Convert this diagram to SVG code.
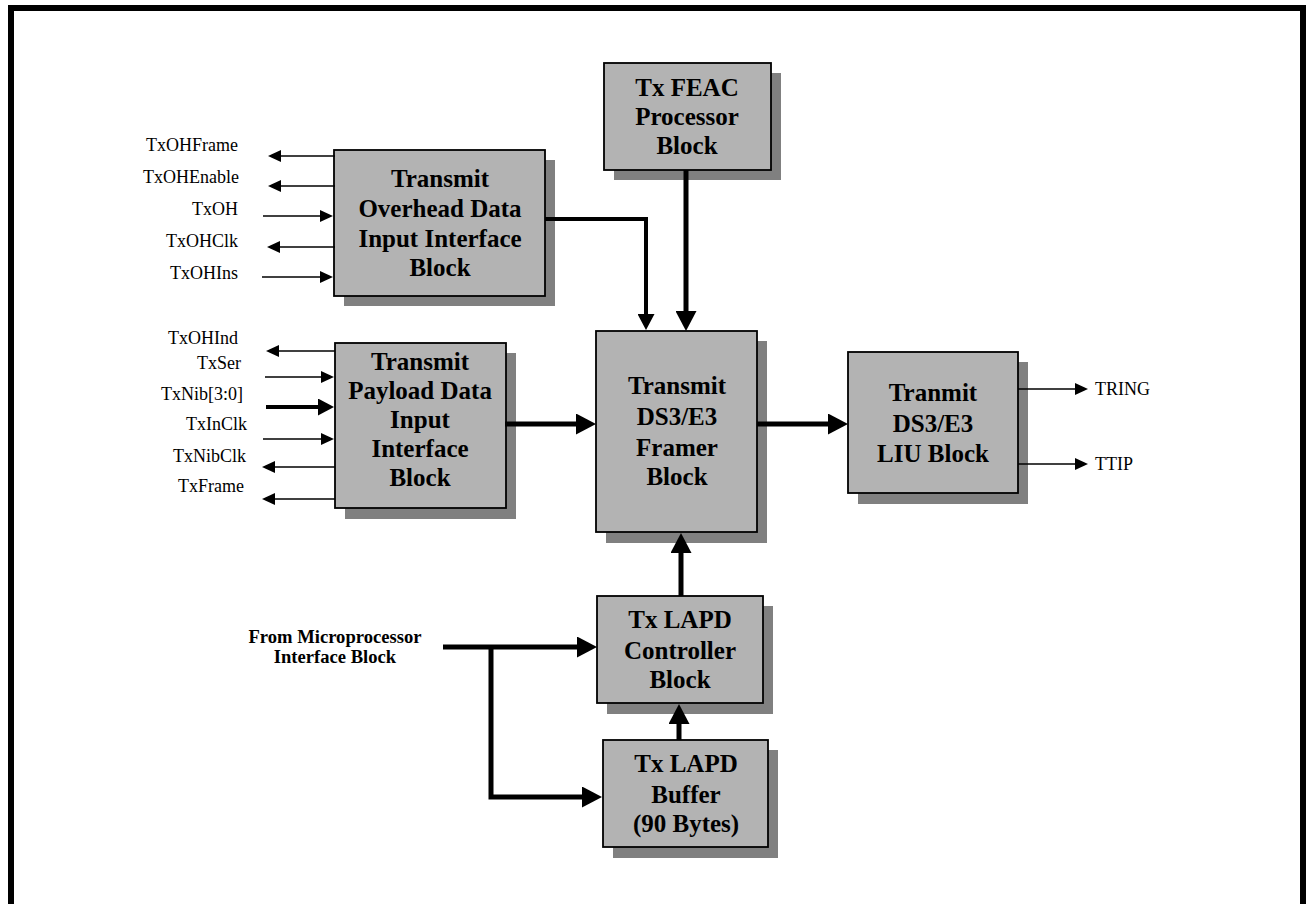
<svg xmlns="http://www.w3.org/2000/svg" width="1306" height="904" viewBox="0 0 1306 904">
<style>
.box{fill:#b3b3b3;stroke:#000;stroke-width:1.8}
.sh{fill:#808080}
.bt{font-family:"Liberation Serif","Times New Roman",serif;font-weight:bold;font-size:25px;text-anchor:middle;fill:#000}
.lb{font-family:"Liberation Serif","Times New Roman",serif;font-size:18px;fill:#000}
.lbb{font-family:"Liberation Serif","Times New Roman",serif;font-size:18.6px;font-weight:bold;text-anchor:middle;fill:#000}
.thin{fill:none;stroke:#000;stroke-width:1.5}
.mid{fill:none;stroke:#000;stroke-width:4}
.thick{fill:none;stroke:#000;stroke-width:5}
</style>
<defs>
<marker id="hs" markerUnits="userSpaceOnUse" markerWidth="13" markerHeight="12" refX="0" refY="6" orient="auto" viewBox="0 0 13 12"><path d="M0,0 L13,6 L0,12 z" fill="#000"/></marker>
<marker id="hm" markerUnits="userSpaceOnUse" markerWidth="16" markerHeight="17" refX="0" refY="8.5" orient="auto" viewBox="0 0 16 17"><path d="M0,0 L16,8.5 L0,17 z" fill="#000"/></marker>
<marker id="hl" markerUnits="userSpaceOnUse" markerWidth="20" markerHeight="21" refX="0" refY="10.5" orient="auto" viewBox="0 0 20 21"><path d="M0,0 L20,10.5 L0,21 z" fill="#000"/></marker>
</defs>
<rect x="0" y="0" width="1306" height="904" fill="#fff"/>
<rect x="11" y="8" width="1292" height="910" fill="none" stroke="#000" stroke-width="6"/>

<g id="overhead">
<rect class="sh" x="344" y="160" width="211" height="146"/>
<rect class="box" x="334" y="150" width="211" height="146"/>
<text class="bt" x="440" y="187">Transmit</text>
<text class="bt" x="440" y="217">Overhead Data</text>
<text class="bt" x="440" y="247">Input Interface</text>
<text class="bt" x="440" y="276">Block</text>
</g>

<g id="feac">
<rect class="sh" x="614" y="73" width="167" height="107"/>
<rect class="box" x="604" y="63" width="167" height="107"/>
<text class="bt" x="687" y="96">Tx FEAC</text>
<text class="bt" x="687" y="125">Processor</text>
<text class="bt" x="687" y="154">Block</text>
</g>

<g id="payload">
<rect class="sh" x="345" y="353" width="171" height="166"/>
<rect class="box" x="335" y="343" width="171" height="165"/>
<text class="bt" x="420" y="370">Transmit</text>
<text class="bt" x="420" y="399">Payload Data</text>
<text class="bt" x="420" y="428">Input</text>
<text class="bt" x="420" y="457">Interface</text>
<text class="bt" x="420" y="486">Block</text>
</g>

<g id="framer">
<rect class="sh" x="606" y="341" width="161" height="202"/>
<rect class="box" x="596" y="331" width="161" height="201"/>
<text class="bt" x="677" y="394">Transmit</text>
<text class="bt" x="677" y="425">DS3/E3</text>
<text class="bt" x="677" y="456">Framer</text>
<text class="bt" x="677" y="485">Block</text>
</g>

<g id="liu">
<rect class="sh" x="858" y="362" width="170" height="142"/>
<rect class="box" x="848" y="352" width="170" height="141"/>
<text class="bt" x="933" y="401">Tranmit</text>
<text class="bt" x="933" y="432">DS3/E3</text>
<text class="bt" x="933" y="462">LIU Block</text>
</g>

<g id="lapd-controller">
<rect class="sh" x="607" y="606" width="166" height="108"/>
<rect class="box" x="597" y="596" width="166" height="107"/>
<text class="bt" x="680" y="628">Tx LAPD</text>
<text class="bt" x="680" y="659">Controller</text>
<text class="bt" x="680" y="688">Block</text>
</g>

<g id="lapd-buffer">
<rect class="sh" x="613" y="750" width="165" height="108"/>
<rect class="box" x="603" y="740" width="165" height="107"/>
<text class="bt" x="686" y="772">Tx LAPD</text>
<text class="bt" x="686" y="803">Buffer</text>
<text class="bt" x="686" y="832">(90 Bytes)</text>
</g>

<g id="labels">
<text class="lb" x="238" y="151" text-anchor="end">TxOHFrame</text>
<text class="lb" x="239" y="183" text-anchor="end">TxOHEnable</text>
<text class="lb" x="238" y="215" text-anchor="end">TxOH</text>
<text class="lb" x="238" y="247" text-anchor="end">TxOHClk</text>
<text class="lb" x="238" y="279" text-anchor="end">TxOHIns</text>
<text class="lb" x="238" y="344" text-anchor="end">TxOHInd</text>
<text class="lb" x="241" y="369" text-anchor="end">TxSer</text>
<text class="lb" x="243" y="400" text-anchor="end">TxNib[3:0]</text>
<text class="lb" x="247" y="430" text-anchor="end">TxInClk</text>
<text class="lb" x="246" y="462" text-anchor="end">TxNibClk</text>
<text class="lb" x="244" y="492" text-anchor="end">TxFrame</text>
<text class="lb" x="1095" y="395">TRING</text>
<text class="lb" x="1095" y="470">TTIP</text>
<text class="lbb" x="335" y="643">From Microprocessor</text>
<text class="lbb" x="335" y="663">Interface Block</text>
</g>

<g id="connectors">
<path class="thin" d="M335,156 H281" marker-end="url(#hs)"/>
<path class="thin" d="M335,186 H281" marker-end="url(#hs)"/>
<path class="thin" d="M263,216 H320" marker-end="url(#hs)"/>
<path class="thin" d="M335,247 H280" marker-end="url(#hs)"/>
<path class="thin" d="M262,277 H320" marker-end="url(#hs)"/>
<path class="thin" d="M335,351 H279" marker-end="url(#hs)"/>
<path class="thin" d="M265,377 H321" marker-end="url(#hs)"/>
<path class="mid" d="M266,407 H318" marker-end="url(#hm)"/>
<path class="thin" d="M263,439 H321" marker-end="url(#hs)"/>
<path class="thin" d="M335,467 H275" marker-end="url(#hs)"/>
<path class="thin" d="M335,499 H275" marker-end="url(#hs)"/>
<path class="mid" d="M545,219 H646 V314" marker-end="url(#hm)"/>
<path class="thick" d="M686,170 V311" marker-end="url(#hl)"/>
<path class="thick" d="M505,424 H576" marker-end="url(#hl)"/>
<path class="thick" d="M757,424 H828" marker-end="url(#hl)"/>
<path class="thin" d="M1018,389 H1075" marker-end="url(#hs)"/>
<path class="thin" d="M1018,464 H1075" marker-end="url(#hs)"/>
<path class="thick" d="M681,596 V553" marker-end="url(#hl)"/>
<path class="thick" d="M679,740 V724" marker-end="url(#hl)"/>
<path class="thick" d="M443,647 H577" marker-end="url(#hl)"/>
<path class="thick" d="M491,647 V797 H582" marker-end="url(#hl)"/>
</g>
</svg>
